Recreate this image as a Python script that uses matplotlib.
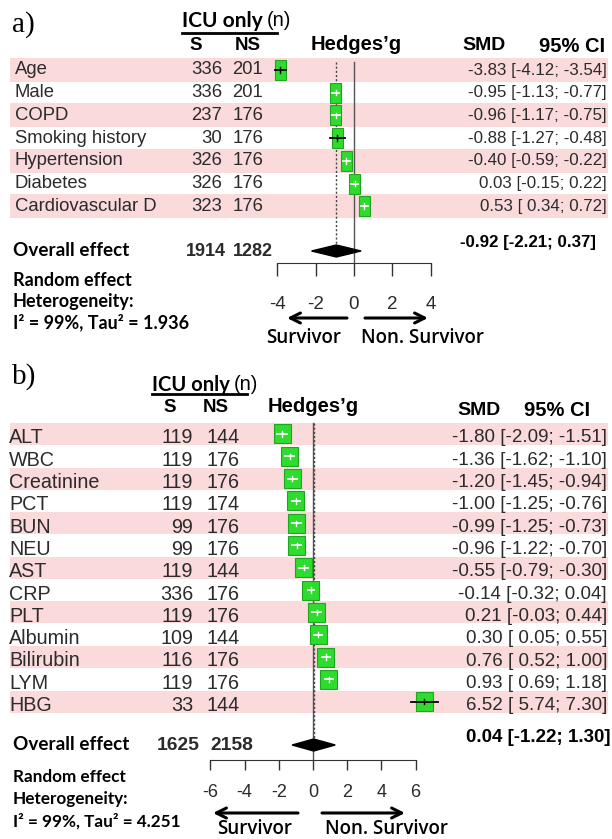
import matplotlib
matplotlib.use('Agg')
import matplotlib.pyplot as plt
from matplotlib.patches import Rectangle, Polygon
from matplotlib import transforms

W, H = 612, 839
DPI = 100

# ---------------- data ----------------
a_labels = ["Age", "Male", "COPD", "Smoking history", "Hypertension", "Diabetes", "Cardiovascular D"]
a_S = [336, 336, 237, 30, 326, 326, 323]
a_NS = [201, 201, 176, 176, 176, 176, 176]
a_smd = [-3.83, -0.95, -0.96, -0.88, -0.40, 0.03, 0.53]
a_lo = [-4.12, -1.13, -1.17, -1.27, -0.59, -0.15, 0.34]
a_hi = [-3.54, -0.77, -0.75, -0.48, -0.22, 0.22, 0.72]
a_overall = [-0.92, -2.21, 0.37]
a_totals = [1914, 1282]
a_ticks = [-4, -2, 0, 2, 4]
a_het = "I\u00b2 = 99%, Tau\u00b2 = 1.936"

b_labels = ["ALT", "WBC", "Creatinine", "PCT", "BUN", "NEU", "AST", "CRP", "PLT",
            "Albumin", "Bilirubin", "LYM", "HBG"]
b_S = [119, 119, 119, 119, 99, 99, 119, 336, 119, 109, 116, 119, 33]
b_NS = [144, 176, 176, 174, 176, 176, 144, 176, 176, 144, 176, 176, 144]
b_smd = [-1.80, -1.36, -1.20, -1.00, -0.99, -0.96, -0.55, -0.14, 0.21, 0.30, 0.76, 0.93, 6.52]
b_lo = [-2.09, -1.62, -1.45, -1.25, -1.25, -1.22, -0.79, -0.32, -0.03, 0.05, 0.52, 0.69, 5.74]
b_hi = [-1.51, -1.10, -0.94, -0.76, -0.73, -0.70, -0.30, 0.04, 0.44, 0.55, 1.00, 1.18, 7.30]
b_overall = [0.04, -1.22, 1.30]
b_totals = [1625, 2158]
b_ticks = [-6, -4, -2, 0, 2, 4, 6]
b_het = "I\u00b2 = 99%, Tau\u00b2 = 4.251"

ARIAL = 'Liberation Sans'
CAL = 'Lato'
SURV = 'Open Sans'
PINK = '#fadada'
GREEN = '#2edc2e'
GREEN_E = '#1fa51f'
TXT = '#2b2b2b'

fig = plt.figure(figsize=(W / DPI, H / DPI), dpi=DPI)


def fmt_ci(m, lo, hi):
    return f"{m:.2f} [{lo:5.2f}; {hi:.2f}]"


def panel(cfg):
    top_px = cfg['top_px']
    axis_px = cfg['axis_px']
    r0, dr = cfg['row0'], cfg['drow']
    x0, dx = cfg['zero_px'], cfg['px_per_unit']
    ax = fig.add_axes([0, 1 - axis_px / H, 1, (axis_px - top_px) / H])
    ax.set_xlim((0 - x0) / dx, (W - x0) / dx)
    ax.set_ylim((axis_px - r0) / dr, (top_px - r0) / dr)
    ax.patch.set_alpha(0)

    def ry(px):  # pixel row -> data row
        return (px - r0) / dr

    def dxv(px):  # pixel x -> data x
        return (px - x0) / dx

    tr = transforms.blended_transform_factory(fig.transFigure, ax.transData)

    def fx(px):
        return px / W

    n = len(cfg['labels'])
    # bands
    for i in range(0, n, 2):
        ax.axhspan(i - cfg['band'], i + cfg['band'], xmin=10 / W, xmax=608 / W,
                   color=PINK, zorder=0, lw=0)

    # vertical lines
    m_all, lo_all, hi_all = cfg['overall']
    y_ov = ry(cfg['overall_px'])
    ax.plot([0, 0], [ry(cfg['vline_top_px']), ax.get_ylim()[0]], color='#555555', lw=1.0, zorder=1)
    ax.plot([m_all, m_all], [ry(cfg['vline_top_px']), y_ov], color='#444444', lw=1.0,
            ls=(0, (1.5, 1.5)), zorder=1)

    # squares and CIs
    w = cfg['sq_w'] / dx
    h = cfg['sq_h'] / dr
    for i, (m, lo, hi) in enumerate(zip(cfg['smd'], cfg['lo'], cfg['hi'])):
        ax.add_patch(Rectangle((m - w / 2, i - h / 2), w, h, facecolor=GREEN,
                               edgecolor=GREEN_E, lw=0.8, zorder=3))
        c = 'black' if (hi - lo) >= 0.95 * w else 'white'
        ax.plot([lo, hi], [i, i], color=c, lw=1.3, zorder=4)
        ax.plot([m, m], [i - 0.12, i + 0.12], color=c, lw=1.0, zorder=4)

    # diamond
    dh = 6 / dr
    ax.add_patch(Polygon([(lo_all, y_ov), (m_all, y_ov - dh), (hi_all, y_ov), (m_all, y_ov + dh)],
                         closed=True, facecolor='black', edgecolor='black', zorder=4))

    # axis
    for s in ['top', 'left', 'right']:
        ax.spines[s].set_visible(False)
    ax.spines['bottom'].set_bounds(cfg['ticks'][0], cfg['ticks'][-1])
    ax.spines['bottom'].set_color('#333333')
    ax.set_yticks([])
    ax.set_xticks(cfg['ticks'])
    ax.set_xticklabels([str(t) for t in cfg['ticks']])
    ax.tick_params(axis='x', direction='out', length=cfg['tick_len'], width=1,
                   color='#333333', pad=cfg['tick_pad'], labelsize=cfg['tick_size'],
                   labelcolor=TXT)
    for lab in ax.get_xticklabels():
        lab.set_fontfamily(cfg['tick_font'])

    toff = cfg['text_off'] / dr
    # rows text
    for i, lab in enumerate(cfg['labels']):
        y = i + toff
        ax.text(fx(cfg['label_px']), y, lab, transform=tr, ha='left', va='center',
                fontsize=cfg['fs_lab'], family=ARIAL, color=TXT)
        ax.text(fx(cfg['S_px']), y, str(cfg['S'][i]), transform=tr, ha='right', va='center',
                fontsize=cfg['fs_lab'], family=ARIAL, color=TXT)
        ax.text(fx(cfg['NS_px']), y, str(cfg['NS'][i]), transform=tr, ha='right', va='center',
                fontsize=cfg['fs_lab'], family=ARIAL, color=TXT)
        ax.text(fx(607), y, fmt_ci(cfg['smd'][i], cfg['lo'][i], cfg['hi'][i]), transform=tr,
                ha='right', va='center', fontsize=cfg['fs_smd'], family=ARIAL, color=TXT)

    # headers
    ax.text(fx(12), ry(cfg['title_px']), cfg['title'], transform=tr, ha='left', va='center',
            fontsize=21, family='Liberation Serif', color='black')
    icu = ax.text(fx(cfg['icu_px']), ry(cfg['icu_y']), "ICU only", transform=tr, ha='left',
                  va='center', fontsize=cfg['fs_icu'], family=CAL, fontweight='bold', color='black')
    ax.annotate("(n)", xy=(1, 0.5), xycoords=icu, xytext=(3, 0), textcoords='offset points',
                ha='left', va='center', fontsize=14.5, family=ARIAL, color='black')
    ax.plot([fx(cfg['icu_px']), fx(cfg['ul_end'])], [ry(cfg['ul_y'])] * 2, transform=tr,
            color='black', lw=2, clip_on=False)
    ax.text(fx(cfg['S_hdr']), ry(cfg['sns_y']), "S", transform=tr, ha='center', va='center',
            fontsize=13.5, family=ARIAL, fontweight='bold', color='black')
    ax.text(fx(cfg['NS_hdr']), ry(cfg['sns_y']), "NS", transform=tr, ha='center', va='center',
            fontsize=13.5, family=ARIAL, fontweight='bold', color='black')
    ax.text(fx(cfg['hedges_px']), ry(cfg['hedges_y']), "Hedges\u2019g", transform=tr,
            ha='center', va='center', fontsize=14.5, family=ARIAL, fontweight='bold', color='black')
    ax.text(fx(cfg['smd_px']), ry(cfg['smd_y']), "SMD", transform=tr, ha='left', va='center',
            fontsize=14, family=ARIAL, fontweight='bold', color='black')
    ax.text(fx(cfg['ci_px']), ry(cfg['smd_y']), "95% CI", transform=tr, ha='right', va='center',
            fontsize=14.5, family=ARIAL, fontweight='bold', color='black')

    # overall
    ax.text(fx(13), y_ov, "Overall effect", transform=tr, ha='left', va='center',
            fontsize=cfg['fs_ov'], family=CAL, fontweight='bold', color='black')
    ax.text(fx(cfg['tot_px'][0]), y_ov, str(cfg['totals'][0]), transform=tr, ha='right',
            va='center', fontsize=cfg['fs_tot'], family=ARIAL, fontweight='bold', color=TXT)
    ax.text(fx(cfg['tot_px'][1]), y_ov, str(cfg['totals'][1]), transform=tr, ha='right',
            va='center', fontsize=cfg['fs_tot'], family=ARIAL, fontweight='bold', color=TXT)
    ax.text(fx(cfg['ov_px']), ry(cfg['ov_y']), fmt_ci(m_all, lo_all, hi_all), transform=tr,
            ha='right', va='center', fontsize=cfg['fs_smd'], family=ARIAL, fontweight='bold',
            color='black')

    for txt, ypx in zip(["Random effect", "Heterogeneity:", cfg['het']], cfg['het_y']):
        ax.text(fx(13), ry(ypx), txt, transform=tr, ha='left', va='center', fontsize=cfg['fs_het'],
                family=CAL, fontweight='bold', color='black')

    # arrows
    ya = ry(cfg['arrow_y'])
    l0, l1, r0_, r1 = cfg['arrows']
    for a, b in [(l0, l1), (r0_, r1)]:
        ax.annotate('', xy=(dxv(b), ya), xytext=(dxv(a), ya), annotation_clip=False,
                    arrowprops=dict(arrowstyle='->', lw=2.2, color='black', mutation_scale=18,
                                    shrinkA=0, shrinkB=0))
    ys = ry(cfg['surv_y'])
    ax.text(dxv(cfg['surv_px'][0]), ys, "Survivor", ha='center', va='center', fontsize=13.5,
            family=SURV, fontweight='semibold', color='black', clip_on=False)
    ax.text(dxv(cfg['surv_px'][1]), ys, "Non. Survivor", ha='center', va='center', fontsize=13.5,
            family=SURV, fontweight='semibold', color='black', clip_on=False)
    return ax


cfg_a = dict(
    labels=a_labels, S=a_S, NS=a_NS, smd=a_smd, lo=a_lo, hi=a_hi, overall=a_overall,
    totals=a_totals, ticks=a_ticks, het=a_het,
    top_px=0, axis_px=263, row0=70, drow=22.7, zero_px=354, px_per_unit=19.2,
    band=0.53, overall_px=251, vline_top_px=62, sq_w=11, sq_h=20,
    tick_len=9, tick_pad=15, tick_size=13.5, tick_font=ARIAL,
    fs_lab=13.3, fs_smd=12.2, fs_tot=13, fs_ov=13.6, fs_het=13, fs_icu=15,
    text_off=0, label_px=15, S_px=222, NS_px=263,
    title="a)", title_px=25, icu_px=182, icu_y=21, ul_end=277, ul_y=33,
    S_hdr=196, NS_hdr=248, sns_y=46, hedges_px=356, hedges_y=45, smd_px=462, ci_px=605, smd_y=46,
    tot_px=[226, 273], ov_px=596, ov_y=243, het_y=[280, 301, 322],
    arrow_y=318, arrows=[347, 287, 365, 428], surv_y=338, surv_px=[304, 423],
)

cfg_b = dict(
    labels=b_labels, S=b_S, NS=b_NS, smd=b_smd, lo=b_lo, hi=b_hi, overall=b_overall,
    totals=b_totals, ticks=b_ticks, het=b_het,
    top_px=360, axis_px=760, row0=434, drow=22.3, zero_px=313, px_per_unit=17.1,
    band=0.49, overall_px=745, vline_top_px=423, sq_w=17, sq_h=19,
    tick_len=7.5, tick_pad=10, tick_size=13, tick_font=ARIAL,
    fs_lab=14.2, fs_smd=13.5, fs_tot=13.9, fs_ov=13.6, fs_het=12.3, fs_icu=14.5,
    text_off=4, label_px=9, S_px=193, NS_px=240,
    title="b)", title_px=377, icu_px=152, icu_y=385, ul_end=247, ul_y=394,
    S_hdr=170, NS_hdr=216, sns_y=408, hedges_px=313, hedges_y=407, smd_px=457, ci_px=590, smd_y=411,
    tot_px=[200, 253], ov_px=610, ov_y=737, het_y=[777, 799, 821],
    arrow_y=813, arrows=[298, 213, 322, 405], surv_y=829, surv_px=[255, 386],
)

panel(cfg_a)
panel(cfg_b)

fig.savefig('out.png', dpi=DPI)
